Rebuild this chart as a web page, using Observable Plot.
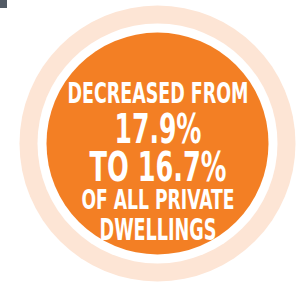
<!DOCTYPE html>
<html>
<head>
<meta charset="utf-8">
<script src="https://cdn.jsdelivr.net/npm/d3@7"></script>
<script src="https://cdn.jsdelivr.net/npm/@observablehq/plot@0.6"></script>
<style>
  html, body { margin: 0; padding: 0; background: #ffffff; }
  #wrap { position: relative; width: 300px; height: 284px; overflow: hidden; }
  #corner { position: absolute; left: 0; top: 0; width: 7px; height: 8px; background: #525b65; }
</style>
</head>
<body>
<div id="wrap"><div id="corner"></div><div id="chart"></div></div>
<script>
// Data
const fromValue = 17.9;
const toValue = 16.7;
const textLines = ["DECREASED FROM", `${fromValue}%`, `TO ${toValue}%`, "OF ALL PRIVATE", "DWELLINGS"];

// Layout (pixels)
const W = 300, H = 284;
const cx = 157, cy = 143;
const baselines = [102, 142, 180, 208, 239];
const sizes = [28.5, 41, 40, 26, 29.5];
const widths = [181, 87, 137, 153, 117];

const rows = textLines.map((t, i) => ({t, x: 157.5, y: baselines[i], size: sizes[i], w: widths[i]}));
const center = [{x: cx, y: cy}];

const chart = Plot.plot({
  width: W, height: H,
  margin: 0,
  x: {domain: [0, W], range: [0, W], axis: null},
  y: {domain: [0, H], range: [0, H], axis: null},
  style: {background: "transparent"},
  marks: [
    Plot.dot(center, {x: "x", y: "y", r: 138, fill: "#fde5d5", stroke: null}),
    Plot.dot(center, {x: "x", y: "y", r: 120, fill: "#ffffff", stroke: null}),
    Plot.dot(center, {x: "x", y: "y", r: 111, fill: "#f37f24", stroke: null}),
    Plot.text(rows, {
      x: "x", y: "y", text: "t",
      fontSize: d => d.size,
      lineAnchor: "bottom", textAnchor: "middle",
      fill: "#ffffff",
      fontFamily: "'Liberation Sans Narrow', 'DejaVu Sans Condensed', sans-serif",
      fontWeight: "bold",
      className: "labels"
    })
  ]
});

chart.querySelectorAll(".labels text").forEach((el, i) => {
  el.setAttribute("textLength", rows[i].w);
  el.setAttribute("lengthAdjust", "spacingAndGlyphs");
});

document.getElementById("chart").appendChild(chart);
</script>
</body>
</html>
